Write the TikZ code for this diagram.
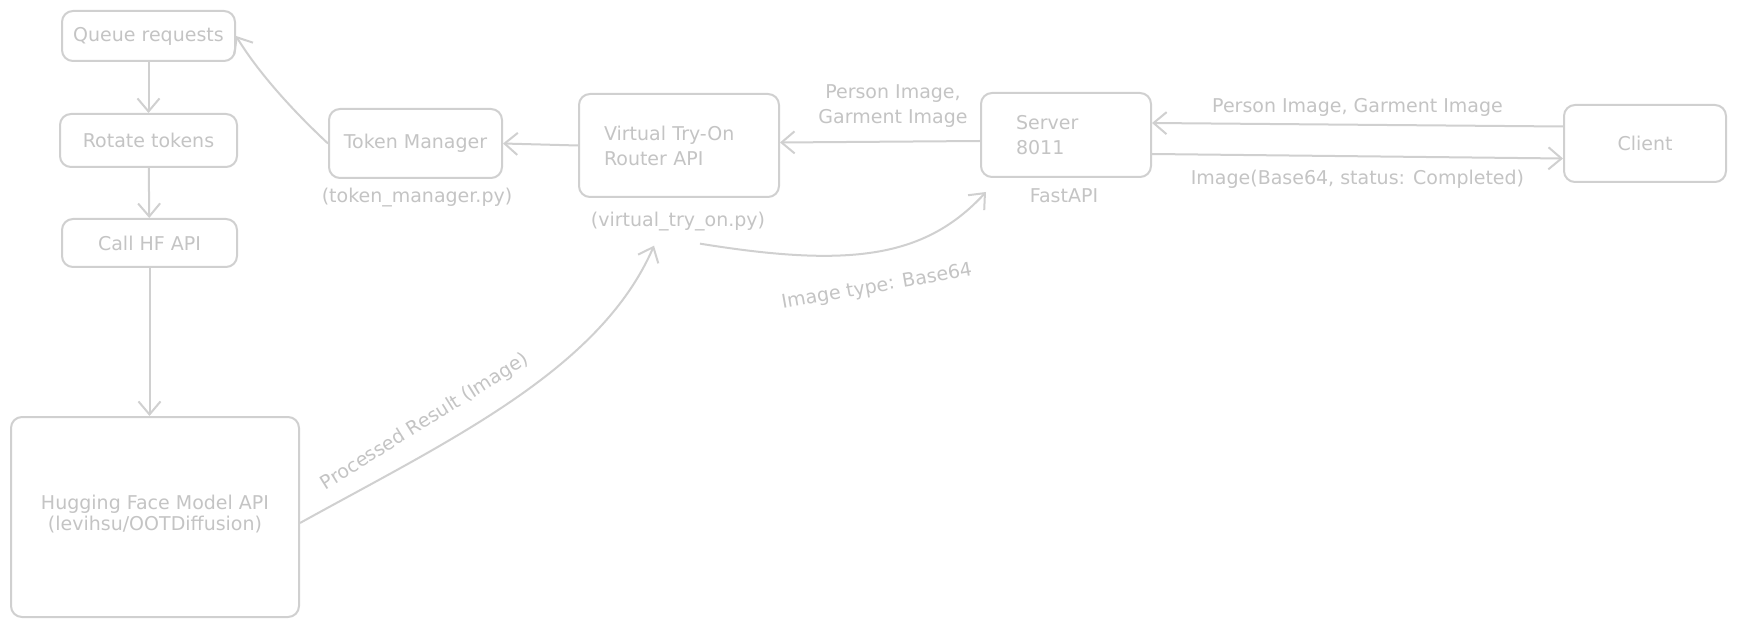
\documentclass[tikz,border=0pt]{standalone}
\usepackage{fontspec}
\setmainfont{DejaVu Sans}
\usetikzlibrary{arrows.meta,calc}
\definecolor{linegray}{RGB}{208,208,208}
\definecolor{textgray}{RGB}{196,196,196}
\begin{document}
\begin{tikzpicture}[x=1pt,y=-1pt,
  box/.style={draw=linegray,line width=2pt,rounded corners=11pt,inner sep=0pt,
    text=textgray,font=\fontsize{19}{25}\selectfont,align=center},
  lbl/.style={text=textgray,font=\fontsize{19}{25}\selectfont,inner sep=0pt,align=center},
  arr/.style={draw=linegray,line width=2pt,-{Straight Barb[length=13pt,width=22pt,line width=2pt]}}]
\useasboundingbox[fill=white] (0,0) rectangle (1738,628);
% boxes
\node[box,minimum width=173pt,minimum height=50pt] (q) at (148.5,36) {Queue requests};
\node[box,minimum width=177pt,minimum height=53pt] (r) at (148.5,140.5) {Rotate tokens};
\node[box,minimum width=175pt,minimum height=48pt] (c) at (149.5,243) {Call HF API};
\node[box,minimum width=288pt,minimum height=200pt] (hf) at (155,517) {\raisebox{8pt}{\shortstack{Hugging Face Model API\\(levihsu/OOTDiffusion)}}};
\node[box,minimum width=173pt,minimum height=69pt] (tm) at (415.5,143.5) {Token Manager};
\node[box,minimum width=200pt,minimum height=103pt,text width=150pt,align=left] (vto) at (679,145.5) {Virtual Try-On\\Router API};
\node[box,minimum width=170pt,minimum height=84pt,text width=100pt,align=left] (srv) at (1066,135) {Server\\8011};
\node[box,minimum width=162pt,minimum height=77pt] (cl) at (1645,143.5) {Client};
% captions
\node[lbl] (tmlbl) at (417,198) {(token\_manager.py)};
\node[lbl] (vtolbl) at (678,222) {(virtual\_try\_on.py)};
\node[lbl] (fast) at (1064,196) {FastAPI};
% connectors
\draw[arr] (q) -- (r);
\draw[arr] (r) -- (c);
\draw[arr] (c.south) -- (c.south |- hf.north);
\draw[arr] (tm.west) .. controls (292,110) and (258,72) .. (q.east);
\draw[arr] (vto.west) -- (tm.east);
\draw[arr] ($(srv.west)+(0,6)$) -- ($(vto.east)+(0,-3)$)
  node[lbl,pos=0.5,above=13pt,xshift=13pt] (l1) {Person Image,\\Garment Image};
\draw[arr] ($(cl.west)+(0,-17)$) -- ($(srv.east)+(0,-12)$)
  node[lbl,pos=0.5,above=7pt] (l2) {Person Image, Garment Image};
\draw[arr] ($(srv.east)+(0,19)$) -- ($(cl.west)+(0,15)$)
  node[lbl,pos=0.5,below=13pt] (l3) {Image(Base64, status: Completed)};
\coordinate (vs) at ($(vtolbl.south)+(22,12)$);
\draw[arr] (vs) .. controls (850,268) and (925,258) .. ($(srv.south west)+(6,14)$);
\node[lbl,rotate=10] (l4) at (877,287) {Image type: Base64};
\coordinate (ve) at ($(vtolbl.south)+(-24,14)$);
\draw[arr] ($(hf.east)+(0,6)$) .. controls (450,440) and (600,370) .. (ve);
\node[lbl,rotate=32] (l5) at (425,422) {Processed Result (Image)};
\end{tikzpicture}
\end{document}
